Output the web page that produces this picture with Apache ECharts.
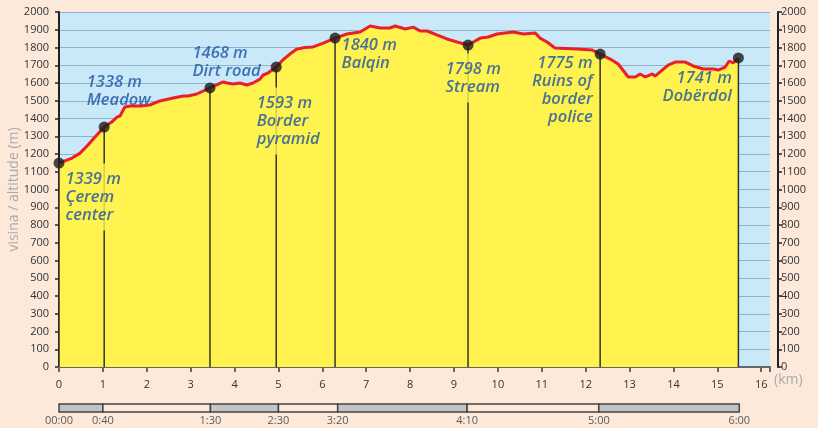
<!DOCTYPE html>
<html>
<head>
<meta charset="utf-8">
<script src="https://cdn.jsdelivr.net/npm/echarts@6/dist/echarts.min.js"></script>
<style>
html,body{margin:0;padding:0;background:#fde9da;}
#main{width:818px;height:428px;}
</style>
</head>
<body>
<div id="main"></div>
<script>
// profile: distance (km) / altitude (m)
var profileKm  = [0, 0.3, 0.48, 0.66, 0.82, 1.03, 1.2, 1.32, 1.39, 1.5, 1.62, 1.85, 2.07, 2.3, 2.6, 2.83, 2.87, 2.94, 3.14, 3.44,
  3.74, 3.83, 3.97, 4.12, 4.28, 4.42, 4.58, 4.65, 4.76, 4.95, 5.1, 5.26, 5.42, 5.6, 5.79, 6.02, 6.29, 6.56, 6.86, 7.09,
  7.32, 7.54, 7.66, 7.89, 8.07, 8.23, 8.39, 8.62, 8.84, 9.07, 9.32, 9.6, 9.78, 9.98, 10.35, 10.58, 10.85, 10.96, 11.12, 11.3,
  11.8, 12.15, 12.33, 12.56, 12.74, 12.97, 13.13, 13.24, 13.36, 13.52, 13.58, 13.88, 14.04, 14.27, 14.45, 14.68, 14.91, 15.02, 15.18, 15.27,
  15.36, 15.48];
var profileAlt = [1149, 1177, 1205, 1251, 1296, 1352, 1380, 1408, 1414, 1465, 1470, 1470, 1476, 1499, 1515, 1527, 1538, 1527, 1538, 1572,
  1606, 1600, 1594, 1600, 1589, 1600, 1622, 1645, 1656, 1690, 1730, 1763, 1791, 1800, 1803, 1825, 1853, 1876, 1887, 1921,
  1910, 1910, 1921, 1904, 1915, 1893, 1893, 1870, 1848, 1831, 1814, 1853, 1859, 1876, 1887, 1876, 1882, 1853, 1831, 1797,
  1791, 1786, 1763, 1735, 1707, 1634, 1634, 1651, 1634, 1651, 1639, 1701, 1718, 1718, 1696, 1679, 1679, 1673, 1690, 1724,
  1713, 1741];

// waypoints
var wpKm    = [0, 1.03, 3.44, 4.95, 6.29, 9.32, 12.33, 15.48];
var wpAlt   = [1149, 1352, 1572, 1690, 1853, 1814, 1763, 1741];
var wpElev  = ['1339 m', '1338 m', '1468 m', '1593 m', '1840 m', '1798 m', '1775 m', '1741 m'];
var wpNames = ['Çerem\ncenter', 'Meadow', 'Dirt road', 'Border\npyramid', 'Balqin', 'Stream', 'Ruins of\nborder\npolice', 'Dobërdol'];

// walking time
var timeKm     = [0, 1, 3.45, 5, 6.35, 9.3, 12.3, 15.5];
var timeLabels = ['00:00', '0:40', '1:30', '2:30', '3:20', '4:10', '5:00', '6:00'];

var yTicks = {min: 0, max: 2000, interval: 100};
var kmMax = 16.2;

// label placement around each waypoint dot: [dx, dy, align, verticalAlign, gap]
var wpLayout = [
  [10, 6, 'left', 'top', true],
  [-12, -12, 'left', 'bottom', false],
  [-12, -2, 'left', 'bottom', false],
  [-16, 26, 'left', 'top', true],
  [12, 4, 'left', 'top', false],
  [-19, 14, 'left', 'top', true],
  [-2, 6, 'right', 'top', false],
  [-1, 17, 'right', 'top', false]
];

var profile = profileKm.map(function(k, i){ return [k, profileAlt[i]]; });
var wpData = wpKm.map(function(k, i){ return [k, wpAlt[i]]; });

var labelData = wpKm.map(function(k, i){
  var L = wpLayout[i];
  return {
    value: [k, wpAlt[i]],
    label: {
      show: true,
      position: [L[0], L[1]],
      align: L[2],
      verticalAlign: L[3],
      formatter: wpElev[i] + '\n' + wpNames[i],
      backgroundColor: L[4] ? '#fff24f' : 'transparent',
      padding: L[4] ? [7, 2, 6, 2] : 0
    }
  };
});

var segs = [];
for (var i = 0; i < timeKm.length - 1; i++) segs.push([timeKm[i], timeKm[i+1], i % 2]);

var chart = echarts.init(document.getElementById('main'));
var axisTxt = {color: '#333', fontSize: 11, fontFamily: 'Open Sans'};
var plain = function(v){ return String(v); };

chart.setOption({
  backgroundColor: '#fde9da',
  animation: false,
  grid: [
    {left: 59, right: 48, top: 12, bottom: 61, show: true, backgroundColor: '#c9e9f8', borderWidth: 0, outerBoundsMode: 'none', containLabel: false},
    {left: 59, right: 48, top: 404, height: 8, outerBoundsMode: 'none', containLabel: false}
  ],
  xAxis: [{
    type: 'value', min: 0, max: kmMax, interval: 1, offset: 6,
    axisLine: {lineStyle: {color: '#666', width: 2}},
    axisTick: {length: 5, lineStyle: {color: '#666', width: 2}},
    axisLabel: Object.assign({margin: 6, formatter: function(v){ return v % 1 === 0 ? String(v) : ''; }}, axisTxt),
    splitLine: {show: false},
    name: '(km)', nameLocation: 'end', nameGap: 4, nameMoveOverlap: false,
    nameTextStyle: {color: '#aaa', fontSize: 14, fontFamily: 'Open Sans', verticalAlign: 'top', padding: [6, 0, 0, 0]}
  }, {
    gridIndex: 1, type: 'value', min: 0, max: kmMax, show: false
  }],
  yAxis: [{
    type: 'value', min: yTicks.min, max: yTicks.max, interval: yTicks.interval, offset: 7,
    axisLine: {show: true, lineStyle: {color: '#222', width: 2}},
    axisTick: {show: true, length: 4, lineStyle: {color: '#222', width: 1.5}},
    axisLabel: Object.assign({margin: 3, formatter: plain}, axisTxt),
    splitLine: {lineStyle: {color: '#8fb3c6', width: 1}},
    name: 'visina / altitude (m)', nameLocation: 'middle', nameGap: 31, nameRotate: 90, nameMoveOverlap: false,
    nameTextStyle: {color: '#aaa', fontSize: 14, fontFamily: 'Open Sans'}
  }, {
    type: 'value', position: 'right', min: yTicks.min, max: yTicks.max, interval: yTicks.interval, offset: 8,
    axisLine: {show: true, lineStyle: {color: '#222', width: 2}},
    axisTick: {show: true, length: 4, lineStyle: {color: '#222', width: 1.5}},
    axisLabel: Object.assign({margin: 3, formatter: plain}, axisTxt),
    splitLine: {show: false}
  }, {
    gridIndex: 1, type: 'value', min: 0, max: 1, show: false
  }],
  series: [
    {// yellow fill
      type: 'line', data: profile, symbol: 'none', z: 1,
      lineStyle: {width: 0}, areaStyle: {color: '#fff24f', opacity: 1}
    },
    {// vertical marker lines
      type: 'custom', data: wpData, z: 2,
      renderItem: function(params, api){
        var p1 = api.coord([api.value(0), api.value(1)]);
        var p0 = api.coord([api.value(0), 0]);
        return {type: 'line', shape: {x1: p1[0], y1: p1[1], x2: p0[0], y2: p0[1]},
          style: {stroke: '#333', lineWidth: 1.5}};
      }
    },
    {// waypoint labels
      type: 'scatter', data: labelData, symbolSize: 11, z: 3,
      itemStyle: {color: 'rgba(0,0,0,0)'},
      label: {color: '#1a52a2', fontSize: 16.5, fontStyle: 'italic', fontWeight: 600, fontFamily: 'Open Sans', lineHeight: 18}
    },
    {// red profile line
      type: 'line', data: profile, symbol: 'none', z: 4,
      lineStyle: {color: '#e8202a', width: 3}
    },
    {// dots
      type: 'scatter', data: wpData, symbolSize: 11, z: 5,
      itemStyle: {color: '#1a1a1a'}
    },
    {// time bar
      type: 'custom', xAxisIndex: 1, yAxisIndex: 2, data: segs, z: 2,
      renderItem: function(params, api){
        var a = api.coord([api.value(0), 1]);
        var b = api.coord([api.value(1), 0]);
        return {type: 'rect', shape: {x: a[0], y: a[1], width: b[0] - a[0], height: b[1] - a[1]},
          style: {fill: api.value(2) ? '#fde9da' : '#c3c3c5', stroke: '#444', lineWidth: 1.5}};
      }
    },
    {// time labels
      type: 'scatter', xAxisIndex: 1, yAxisIndex: 2, symbolSize: 0, z: 3,
      data: timeKm.map(function(k){ return [k, 0]; }),
      label: {show: true, position: 'bottom', distance: 3, color: '#333', fontSize: 11, fontFamily: 'Open Sans',
        formatter: function(p){ return timeLabels[p.dataIndex]; }}
    }
  ]
});
</script>
</body>
</html>
